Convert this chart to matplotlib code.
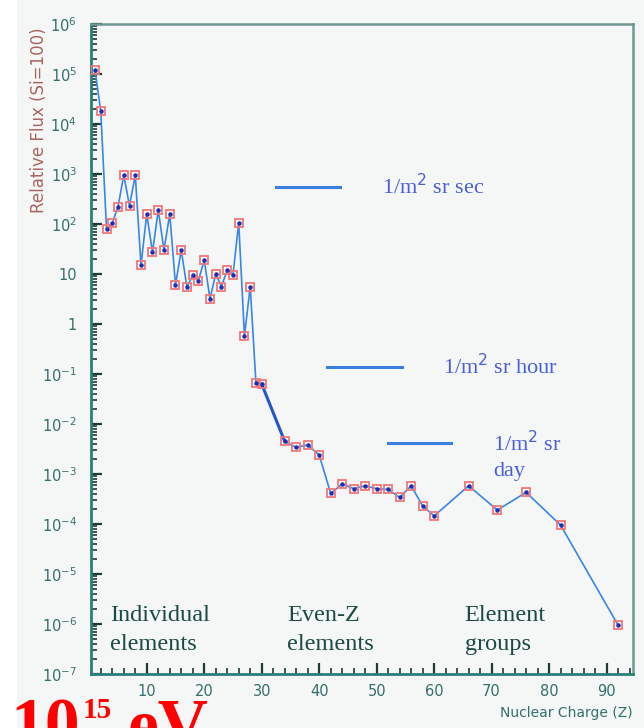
import numpy as np
import matplotlib.pyplot as plt
from matplotlib.ticker import FixedLocator, LogLocator, MultipleLocator, NullFormatter

# Relative flux (Si=100) vs nuclear charge
charge = [1, 2, 3, 4, 5, 6, 7, 8, 9, 10, 11, 12, 13, 14, 15, 16, 17, 18, 19, 20,
          21, 22, 23, 24, 25, 26, 27, 28,
          29, 30, 34, 36, 38, 40, 42, 44, 46, 48, 50, 52, 54, 56, 58, 60,
          66, 71, 76, 82, 92]
flux = [1.2e5, 1.8e4, 80, 1.05e2, 2.2e2, 9.5e2, 2.3e2, 9.5e2, 15, 1.6e2,
        27, 1.9e2, 30, 1.6e2, 6.0, 30, 5.4, 9.5, 7.4, 19,
        3.2, 10, 5.6, 12, 9.5, 1.05e2, 0.58, 5.6,
        0.066, 0.063, 4.5e-3, 3.4e-3, 3.8e-3, 2.4e-3, 4.1e-4, 6.3e-4, 5.1e-4, 5.8e-4,
        5.1e-4, 4.9e-4, 3.4e-4, 5.8e-4, 2.3e-4, 1.45e-4,
        5.8e-4, 1.9e-4, 4.3e-4, 9.5e-5, 9.5e-7]

y_ticks = [1e-7, 1e-6, 1e-5, 1e-4, 1e-3, 1e-2, 1e-1, 1, 10, 1e2, 1e3, 1e4, 1e5, 1e6]
y_labels = [r"$10^{-7}$", r"$10^{-6}$", r"$10^{-5}$", r"$10^{-4}$", r"$10^{-3}$",
            r"$10^{-2}$", r"$10^{-1}$", "1", "10", r"$10^{2}$", r"$10^{3}$",
            r"$10^{4}$", r"$10^{5}$", r"$10^{6}$"]
x_ticks = [10, 20, 30, 40, 50, 60, 70, 80, 90]

# rate reference lines: start Z, end Z, flux level, label, label Z
line_start = [32.5, 41.3, 52.0]
line_end = [43.6, 54.4, 63.0]
line_level = [550, 0.14, 4.1e-3]
line_label = [r"1/m$^2$ sr sec", r"1/m$^2$ sr hour", r"1/m$^2$ sr"]
label_z = [51, 61.6, 70.3]

groups_z = [3.6, 34.4, 65.3]
groups_text = ["Individual\nelements", "Even-Z\nelements", "Element\ngroups"]

plt.rcParams["mathtext.fontset"] = "dejavusans"
teal = "#2b7f79"
bg = "#f4f7f5"

fig = plt.figure(figsize=(6.44, 7.28), dpi=100, facecolor=bg)
fig.patches.append(plt.Rectangle((0, 0), 17 / 644, 1, transform=fig.transFigure,
                                 facecolor="white", edgecolor="none", zorder=-1))
ax = fig.add_axes([91 / 644, 1 - 674 / 728, 542 / 644, 650 / 728])
ax.set_facecolor(bg)
ax.set_yscale("log")
ax.set_xlim(0.3, 94.6)
ax.set_ylim(1e-7, 1e6)

i30 = charge.index(30)
i34 = charge.index(34)
ax.plot(charge, flux, color="#3a86e6", lw=1.2, zorder=2)
ax.plot(charge[i30:i34 + 1], flux[i30:i34 + 1], color="#2656cc", lw=2.2, zorder=2)
ax.plot(charge, flux, ls="none", marker="s", ms=6, mfc="none", mec="#f07878",
        mew=1.3, zorder=3)
ax.plot(charge, flux, ls="none", marker="o", ms=2.2, color="#1b2fb5", zorder=4)

for z0, z1, level, text, tx in zip(line_start, line_end, line_level, line_label, label_z):
    ax.plot([z0, z1], [level, level], color="#3a7fe0", lw=2.2)
    ax.text(tx, level, text, color="#4a5fd6", fontsize=16, family="Liberation Serif",
            va="center", ha="left")
ax.text(label_z[2] - 0.1, 1.1e-3, "day", color="#4a5fd6", fontsize=16,
        family="Liberation Serif", va="center", ha="left")

for gx, text in zip(groups_z, groups_text):
    ax.text(gx, 7.6e-7, text, color="#1d4a45", fontsize=17.5, family="Liberation Serif",
            va="center", ha="left", linespacing=1.45)

# axis frame and ticks in a ROOT-like style
for side in ["left", "bottom"]:
    ax.spines[side].set_color(teal)
    ax.spines[side].set_linewidth(2)
for side in ["top", "right"]:
    ax.spines[side].set_color("#6f9792")
    ax.spines[side].set_linewidth(1.8)

ax.yaxis.set_major_locator(FixedLocator(y_ticks))
ax.set_yticklabels(y_labels)
ax.yaxis.set_minor_locator(LogLocator(base=10, subs=np.arange(2, 10), numticks=30))
ax.yaxis.set_minor_formatter(NullFormatter())
ax.xaxis.set_major_locator(FixedLocator(x_ticks))
ax.xaxis.set_minor_locator(MultipleLocator(2))
ax.tick_params(axis="both", which="major", direction="in", length=8, width=1.6,
               color="#1f3a38", labelcolor="#356f6a", labelsize=10.5)
ax.tick_params(axis="both", which="minor", direction="in", length=4.5, width=1.2,
               color="#1f3a38")
ax.tick_params(axis="y", which="major", pad=10)
ax.tick_params(axis="x", which="major", pad=7)

fig.text(39 / 644, 1 - 120 / 728, "Relative Flux (Si=100)", rotation=90,
         color="#a86660", fontsize=12, ha="center", va="center")
fig.text(633 / 644, 1 - 713 / 728, "Nuclear Charge (Z)", color="#356f6a",
         fontsize=10, ha="right", va="center")

# big red energy label, partly cut off by the bottom edge as in the original
fig.text(10 / 644, -0.026, "10", color="red", fontsize=50, weight="bold",
         family="Liberation Serif", ha="left", va="baseline")
fig.text(83 / 644, 1 - 718 / 728, "15", color="red", fontsize=21, weight="bold",
         family="Liberation Serif", ha="left", va="baseline")
fig.text(128 / 644, -0.026, "eV", color="red", fontsize=50, weight="bold",
         family="Liberation Serif", ha="left", va="baseline")

fig.savefig("out.png", dpi=100, facecolor=bg)
